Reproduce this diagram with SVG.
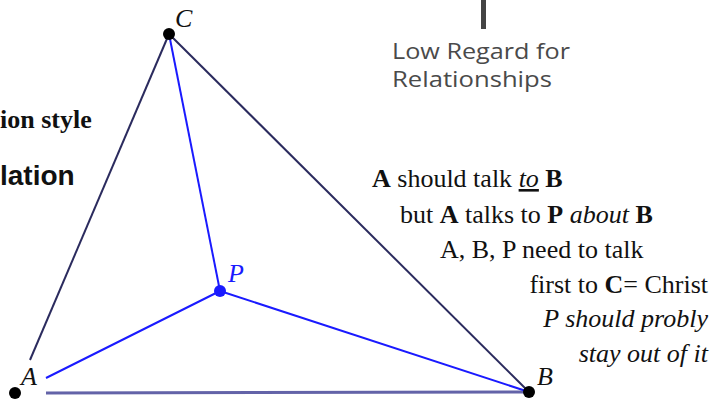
<svg xmlns="http://www.w3.org/2000/svg" width="715" height="399" viewBox="0 0 715 399">
<style>
.dark{stroke:#2b2b5e;stroke-width:2;fill:none}
.blue{stroke:#1a1aff;stroke-width:2;fill:none}
.ab{stroke:#6363a8;stroke-width:3;fill:none}
.lbl{font-family:"Liberation Serif",serif;font-style:italic;font-size:26px;fill:#111}
.t{font-family:"Liberation Serif",serif;font-size:26px;fill:#111}
.b{font-weight:bold}
.i{font-style:italic}
.low{font-family:"Open Sans","Liberation Sans",sans-serif;font-size:22px;fill:#4a4a4a}
</style>
<rect width="715" height="399" fill="#fff"/>
<g id="legend">
<rect x="481" y="0" width="5" height="29" fill="#444"/>
<text class="low" x="392" y="59" textLength="178" lengthAdjust="spacingAndGlyphs">Low Regard for</text>
<text class="low" x="392" y="87" textLength="160" lengthAdjust="spacingAndGlyphs">Relationships</text>
</g>
<g id="left-text">
<text x="0" y="128" font-family="Liberation Serif,serif" font-weight="bold" font-size="26" fill="#111">ion style</text>
<text x="0" y="185" font-family="Liberation Sans,sans-serif" font-weight="bold" font-size="28" fill="#111">lation</text>
</g>
<g id="connectors">
<line class="dark" x1="169" y1="34" x2="30" y2="360"/>
<line class="dark" x1="169" y1="34" x2="529" y2="392"/>
<line class="ab" x1="46" y1="393" x2="529" y2="392"/>
<line class="blue" x1="169" y1="34" x2="220" y2="291"/>
<line class="blue" x1="46" y1="378" x2="220" y2="291"/>
<line class="blue" x1="220" y1="291" x2="529" y2="392"/>
</g>
<g id="node-C">
<circle cx="169" cy="34" r="6" fill="#000"/>
<text class="lbl" x="175" y="27">C</text>
</g>
<g id="node-A">
<circle cx="15" cy="393" r="6" fill="#000"/>
<text class="lbl" x="21" y="385">A</text>
</g>
<g id="node-B">
<circle cx="529" cy="392" r="6" fill="#000"/>
<text class="lbl" x="537" y="385">B</text>
</g>
<g id="node-P">
<circle cx="220" cy="291" r="6" fill="#1a1aff"/>
<text class="lbl" x="228" y="282" style="fill:#1a1aff">P</text>
</g>
<g id="notes">
<text class="t" x="372" y="187"><tspan class="b">A</tspan> should talk <tspan class="i" text-decoration="underline">to</tspan> <tspan class="b">B</tspan></text>
<text class="t" x="400" y="223">but <tspan class="b">A</tspan> talks to <tspan class="b">P</tspan> <tspan class="i">about</tspan> <tspan class="b">B</tspan></text>
<text class="t" x="440" y="258">A, B, P need to talk</text>
<text class="t" x="708" y="293" text-anchor="end">first to <tspan class="b">C</tspan>= Christ</text>
<text class="t i" x="708" y="327" text-anchor="end">P should probly</text>
<text class="t i" x="708" y="362" text-anchor="end">stay out of it</text>
</g>
</svg>
